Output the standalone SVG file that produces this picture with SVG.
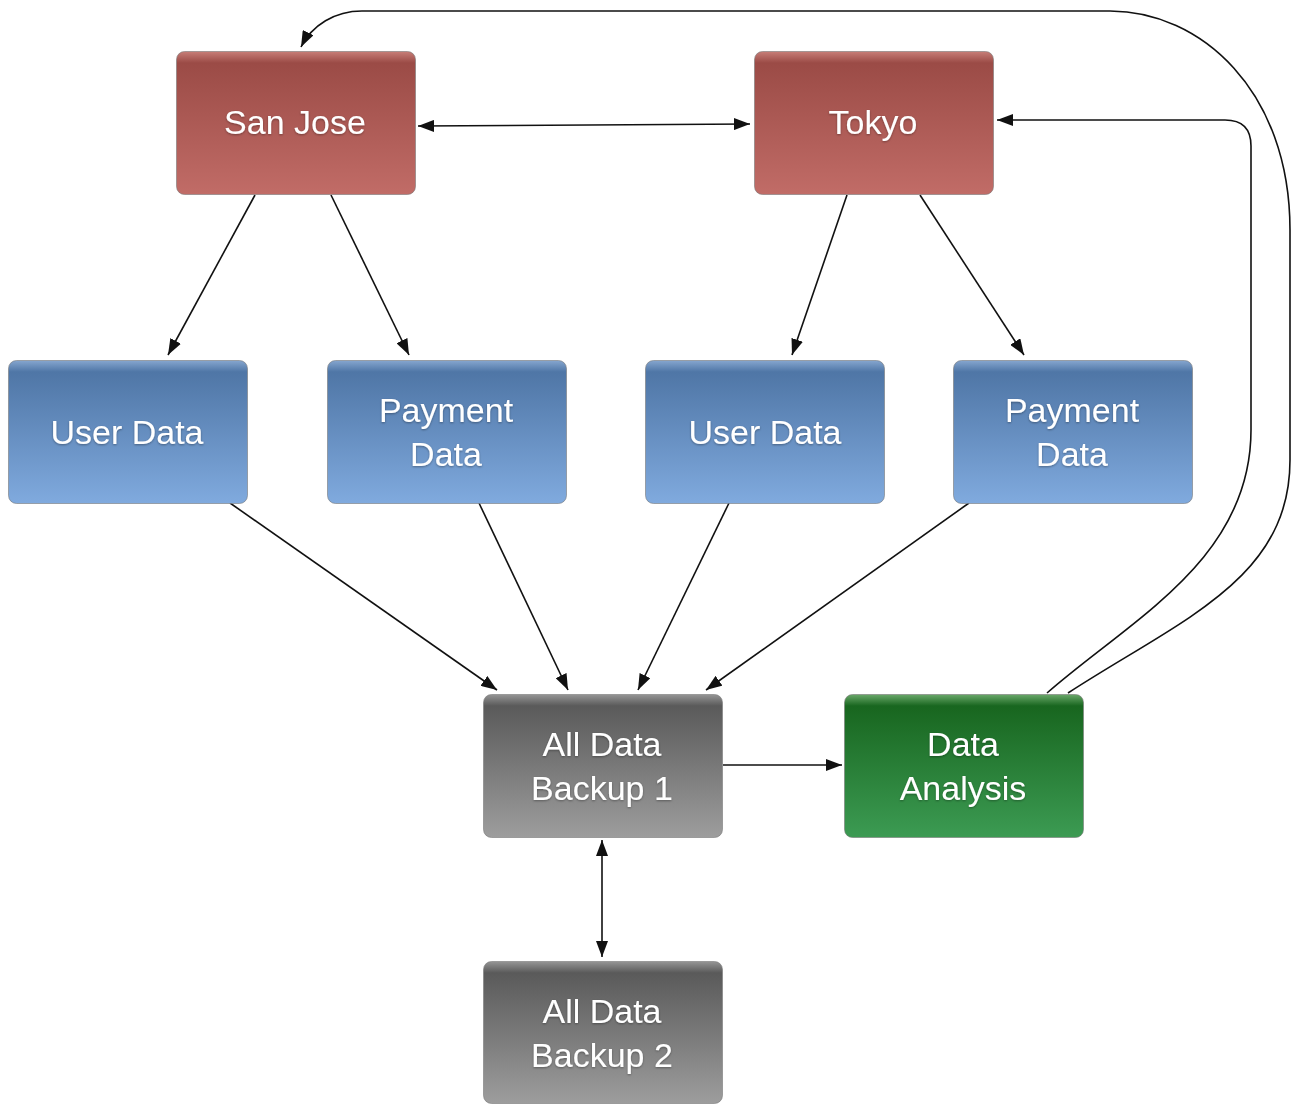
<svg xmlns="http://www.w3.org/2000/svg" width="1293" height="1104" viewBox="0 0 1293 1104">
<style>
.box{stroke:#7a7a7a;stroke-width:1;stroke-opacity:0.6}
.lbl{font-family:"Liberation Sans",Arial,sans-serif;font-size:34px;fill:#ffffff;text-anchor:middle}
.con{fill:none;stroke:#111;stroke-width:1.6}
</style>
<defs>
<linearGradient id="gRed" x1="0" y1="0" x2="0" y2="1">
<stop offset="0" stop-color="#c77e78"/><stop offset="0.08" stop-color="#9b4b46"/><stop offset="1" stop-color="#c16c67"/>
</linearGradient>
<linearGradient id="gBlue" x1="0" y1="0" x2="0" y2="1">
<stop offset="0" stop-color="#86a6cf"/><stop offset="0.08" stop-color="#4f76a6"/><stop offset="1" stop-color="#80aade"/>
</linearGradient>
<linearGradient id="gGray" x1="0" y1="0" x2="0" y2="1">
<stop offset="0" stop-color="#959595"/><stop offset="0.08" stop-color="#5a5a5a"/><stop offset="1" stop-color="#9d9d9d"/>
</linearGradient>
<linearGradient id="gGreen" x1="0" y1="0" x2="0" y2="1">
<stop offset="0" stop-color="#6aa86a"/><stop offset="0.08" stop-color="#18661f"/><stop offset="1" stop-color="#3c9b53"/>
</linearGradient>
<filter id="ts" x="-10%" y="-10%" width="120%" height="130%">
<feDropShadow dx="0" dy="1" stdDeviation="1" flood-color="#000" flood-opacity="0.35"/>
</filter>
<marker id="ah" viewBox="0 0 16 12" refX="16" refY="6" markerWidth="16" markerHeight="12" markerUnits="userSpaceOnUse" orient="auto-start-reverse">
<path d="M0,0 L16,6 L0,12 Z" fill="#111"/>
</marker>
</defs>
<g id="connectors">
<path class="con" d="M418,126 L750,124" marker-start="url(#ah)" marker-end="url(#ah)"/>
<path class="con" d="M255,195 L168,355" marker-end="url(#ah)"/>
<path class="con" d="M331,195 L409,355" marker-end="url(#ah)"/>
<path class="con" d="M847,195 L792,355" marker-end="url(#ah)"/>
<path class="con" d="M920,195 L1024,355" marker-end="url(#ah)"/>
<path class="con" d="M230,503 L497,690" marker-end="url(#ah)"/>
<path class="con" d="M479,503 L568,690" marker-end="url(#ah)"/>
<path class="con" d="M729,503 L638,690" marker-end="url(#ah)"/>
<path class="con" d="M969,503 L706,690" marker-end="url(#ah)"/>
<path class="con" d="M723,765 L842,765" marker-end="url(#ah)"/>
<path class="con" d="M602,840 L602,957" marker-start="url(#ah)" marker-end="url(#ah)"/>
<path class="con" d="M1047,693 C1130,620 1251,560 1251,430 L1251,146 Q1251,120 1225,120 L997,120" marker-end="url(#ah)"/>
<path class="con" d="M1068,693 C1180,620 1290,580 1290,460 L1290,230 C1290,90 1200,11 1110,11 L362,11 C335,11 312,25 301,47" marker-end="url(#ah)"/>
</g>
<g id="sanjose">
<rect class="box" x="176.5" y="51.5" width="239" height="143" rx="8" fill="url(#gRed)"/>
<text class="lbl" x="295" y="134" filter="url(#ts)">San Jose</text>
</g>
<g id="tokyo">
<rect class="box" x="754.5" y="51.5" width="239" height="143" rx="8" fill="url(#gRed)"/>
<text class="lbl" x="873" y="134" filter="url(#ts)">Tokyo</text>
</g>
<g id="userdata1">
<rect class="box" x="8.5" y="360.5" width="239" height="143" rx="8" fill="url(#gBlue)"/>
<text class="lbl" x="127" y="444" filter="url(#ts)">User Data</text>
</g>
<g id="paymentdata1">
<rect class="box" x="327.5" y="360.5" width="239" height="143" rx="8" fill="url(#gBlue)"/>
<text class="lbl" x="446" y="422" filter="url(#ts)">Payment</text>
<text class="lbl" x="446" y="466" filter="url(#ts)">Data</text>
</g>
<g id="userdata2">
<rect class="box" x="645.5" y="360.5" width="239" height="143" rx="8" fill="url(#gBlue)"/>
<text class="lbl" x="765" y="444" filter="url(#ts)">User Data</text>
</g>
<g id="paymentdata2">
<rect class="box" x="953.5" y="360.5" width="239" height="143" rx="8" fill="url(#gBlue)"/>
<text class="lbl" x="1072" y="422" filter="url(#ts)">Payment</text>
<text class="lbl" x="1072" y="466" filter="url(#ts)">Data</text>
</g>
<g id="backup1">
<rect class="box" x="483.5" y="694.5" width="239" height="143" rx="8" fill="url(#gGray)"/>
<text class="lbl" x="602" y="756" filter="url(#ts)">All Data</text>
<text class="lbl" x="602" y="800" filter="url(#ts)">Backup 1</text>
</g>
<g id="dataanalysis">
<rect class="box" x="844.5" y="694.5" width="239" height="143" rx="8" fill="url(#gGreen)"/>
<text class="lbl" x="963" y="756" filter="url(#ts)">Data</text>
<text class="lbl" x="963" y="800" filter="url(#ts)">Analysis</text>
</g>
<g id="backup2">
<rect class="box" x="483.5" y="961.5" width="239" height="142" rx="8" fill="url(#gGray)"/>
<text class="lbl" x="602" y="1023" filter="url(#ts)">All Data</text>
<text class="lbl" x="602" y="1067" filter="url(#ts)">Backup 2</text>
</g>
</svg>
